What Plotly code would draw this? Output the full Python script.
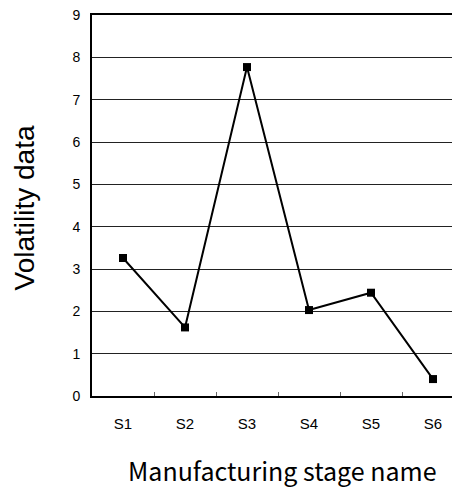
import plotly.graph_objects as go

stages = ["S1", "S2", "S3", "S4", "S5", "S6"]
volatility = [3.26, 1.62, 7.77, 2.03, 2.44, 0.40]
y_ticks = [0, 1, 2, 3, 4, 5, 6, 7, 8, 9]
x_title = "Manufacturing stage name"
y_title = "Volatility data"

fig = go.Figure()
fig.add_trace(go.Scatter(
    x=stages, y=volatility, mode="lines+markers",
    line=dict(color="black", width=2),
    marker=dict(symbol="square", size=8, color="black"),
    showlegend=False,
))

fig.update_layout(
    width=460, height=490,
    margin=dict(l=84, r=4, t=7, b=102),
    plot_bgcolor="white", paper_bgcolor="white",
    font=dict(family="Liberation Sans, Arial, sans-serif", color="black", size=15),
    annotations=[
        dict(text=x_title, xref="paper", yref="paper", x=0.5, y=0,
             xanchor="center", yanchor="middle", xshift=4, yshift=-74,
             showarrow=False,
             font=dict(family="Noto Sans CJK JP", size=25, color="black")),
        dict(text=y_title, xref="paper", yref="paper", x=0, y=0.5,
             xanchor="center", yanchor="middle", xshift=-68, yshift=-3,
             textangle=-90, showarrow=False,
             font=dict(family="Liberation Sans, Arial", size=28, color="black")),
    ],
)
fig.update_xaxes(
    type="category", range=[-0.5, 5.5], automargin=False,
    showline=True, linecolor="black", linewidth=1.5, mirror=True,
    ticks="inside", tickson="boundaries", ticklen=4, tickcolor="#666", tickwidth=1,
    showgrid=False,
    ticklabelstandoff=13,
)
fig.update_yaxes(
    range=[0, 9], tickvals=y_ticks, automargin=False,
    showline=True, linecolor="black", linewidth=2,
    showgrid=True, gridcolor="#222", gridwidth=1,
    zeroline=False, ticks="",
    ticklabelstandoff=7, ticklabeloverflow="allow",
    tickfont=dict(size=14),
)

fig.write_html("out.html")
